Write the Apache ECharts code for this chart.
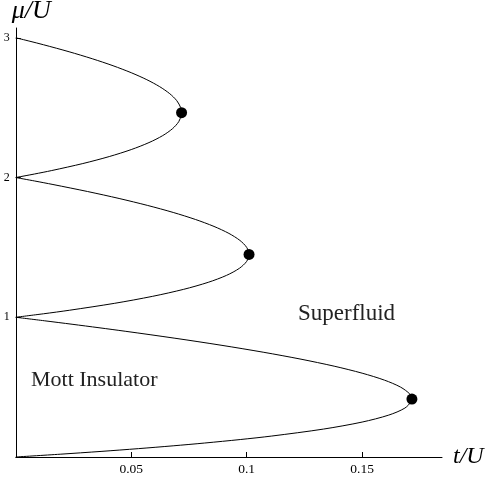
<!DOCTYPE html>
<html><head><meta charset="utf-8">
<script src="https://cdn.jsdelivr.net/npm/echarts@6/dist/echarts.min.js"></script>
<style>html,body{margin:0;padding:0;background:#fff}#c{width:493px;height:481px}</style>
</head><body><div id="c"></div>
<script>
// boundary of Mott lobes: [t/U, mu/U]
const lobe1 = [[0,0],[0.01922,0.02],[0.03692,0.04],[0.05321,0.06],[0.06815,0.08],[0.08182,0.1],[0.09722,0.125],[0.11087,0.15],[0.13333,0.2],[0.15,0.25],[0.16154,0.3],[0.16852,0.35],[0.17143,0.4],[0.17157,0.4142],[0.17069,0.45],[0.16667,0.5],[0.15968,0.55],[0.15,0.6],[0.13788,0.65],[0.12353,0.7],[0.10714,0.75],[0.08889,0.8],[0.06892,0.85],[0.04737,0.9],[0.03604,0.925],[0.02436,0.95],[0.01234,0.975],[0,1]];
const lobe2 = [[0,1],[0.01204,1.025],[0.02317,1.05],[0.04286,1.1],[0.05930,1.15],[0.07273,1.2],[0.08333,1.25],[0.09130,1.3],[0.09681,1.35],[0.1,1.4],[0.10102,1.4495],[0.1,1.5],[0.09706,1.55],[0.09231,1.6],[0.08585,1.65],[0.07778,1.7],[0.06818,1.75],[0.05714,1.8],[0.04474,1.85],[0.03103,1.9],[0.01610,1.95],[0.00819,1.975],[0,2]];
const lobe3 = [[0,2],[0.00806,2.025],[0.01557,2.05],[0.02903,2.1],[0.04048,2.15],[0.05,2.2],[0.05769,2.25],[0.06364,2.3],[0.06791,2.35],[0.07059,2.4],[0.07174,2.45],[0.07180,2.4641],[0.07143,2.5],[0.06972,2.55],[0.06667,2.6],[0.06233,2.65],[0.05676,2.7],[0.05,2.75],[0.04211,2.8],[0.03312,2.85],[0.02308,2.9],[0.01203,2.95],[0.00613,2.975],[0,3]];
const tips = [[0.17157,0.4142],[0.10102,1.4495],[0.07180,2.4641]];
const xTicks = [0.05,0.1,0.15];
const yTicks = [1,2,3];
const labels = ['Superfluid','Mott Insulator'];

const serif = '"Liberation Serif","DejaVu Serif",serif';
const chart = echarts.init(document.getElementById('c'));
const lineSeries = (d) => ({type:'line', data:d, smooth:0.3, symbol:'none', lineStyle:{color:'#000', width:1}, z:2, animation:false});
chart.setOption({
  animation:false,
  grid:{left:15.8, right:51, top:28, bottom:24, outerBoundsMode:'none', containLabel:false},
  xAxis:{type:'value', min:0, max:0.1846,
    name:'t/U', nameLocation:'end', nameGap:11,
    nameTextStyle:{fontFamily:serif, fontStyle:'italic', fontSize:24, color:'#000', verticalAlign:'middle', padding:[0,0,22,0]},
    axisLine:{lineStyle:{color:'#000', width:1}},
    axisTick:{inside:true, length:5, lineStyle:{color:'#000'}, customValues:xTicks},
    axisLabel:{fontFamily:serif, fontSize:13.5, color:'#000', margin:5, customValues:xTicks, formatter:v=>String(v)},
    splitLine:{show:false}},
  yAxis:{type:'value', min:0, max:3.07,
    name:'μ/U', nameLocation:'end', nameGap:4,
    nameTextStyle:{fontFamily:serif, fontStyle:'italic', fontSize:26, color:'#000', align:'left', padding:[0,0,0,-4]},
    axisLine:{lineStyle:{color:'#000', width:1}},
    axisTick:{inside:true, length:5, lineStyle:{color:'#000'}, customValues:yTicks},
    axisLabel:{fontFamily:serif, fontSize:12, color:'#000', margin:6, customValues:yTicks},
    splitLine:{show:false}},
  series:[lineSeries(lobe1), lineSeries(lobe2), lineSeries(lobe3),
    {type:'scatter', data:tips, symbolSize:11, itemStyle:{color:'#000', opacity:1}, z:3}],
  graphic:[
    {type:'text', left:298, top:302, style:{text:labels[0], font:'23px '+serif, fill:'#222'}},
    {type:'text', left:31, top:369, style:{text:labels[1], font:'22px '+serif, fill:'#222'}}
  ]
});
</script></body></html>
